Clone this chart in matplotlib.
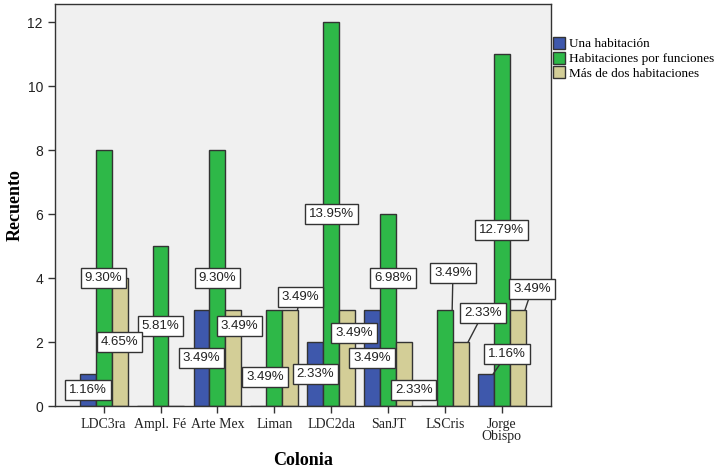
import numpy as np
import matplotlib
matplotlib.use("Agg")
import matplotlib.pyplot as plt

# Data: counts per colonia and room type
colonias = ["LDC3ra", "Ampl. Fé", "Arte Mex", "Liman", "LDC2da", "SanJT", "LSCris", "Jorge\nObispo"]
series_names = ["Una habitación", "Habitaciones por funciones", "Más de dos habitaciones"]
una_hab = [1, 0, 3, 0, 2, 3, 0, 1]
hab_funciones = [8, 5, 8, 3, 12, 6, 3, 11]
mas_de_dos = [4, 0, 3, 3, 3, 2, 2, 3]

COLORS = ["#3E58AC", "#2EB848", "#D3CE97"]
BG = "#F0F0F0"
EDGE = "#333333"

# label positions that SPSS moved away from the bar middle: (series, category) -> (x, y, leader)
label_moves = {
    (2, 2): (2.39, 2.5, False),
    (1, 3): (2.84, 0.9, False),
    (2, 3): (3.46, 3.4, True),
    (2, 4): (4.40, 2.28, False),
    (1, 5): (5.09, 4.0, False),
    (2, 5): (5.45, 0.5, False),
    (1, 6): (6.14, 4.16, True),
    (2, 6): (6.67, 2.9, True),
    (0, 7): (7.09, 1.63, True),
    (2, 7): (7.53, 3.66, True),
}

series = [una_hab, hab_funciones, mas_de_dos]
total = sum(sum(s) for s in series)

fig = plt.figure(figsize=(7.2, 4.71), dpi=100)
ax = fig.add_axes([0.076, 0.138, 0.689, 0.853])
ax.set_facecolor(BG)

x = np.arange(len(colonias))
w = 0.28
for k, (vals, name, col) in enumerate(zip(series, series_names, COLORS)):
    xpos = x + (k - 1) * w
    ax.bar(xpos, vals, width=w, color=col, edgecolor=EDGE, linewidth=1.0, label=name, zorder=2)
    for i, v in enumerate(vals):
        if v == 0:
            continue
        txt = f"{100 * v / total:.2f}%"
        lx, ly, leader = label_moves.get((k, i), (xpos[i], v / 2, False))
        bbox = dict(boxstyle="square,pad=0.3", fc="white", ec=EDGE, lw=1.0)
        if leader:
            ax.annotate(txt, xy=(xpos[i] + w * 0.45, v), xytext=(lx, ly),
                        ha="center", va="center", fontsize=9.5, family="Liberation Sans",
                        color="#222222", bbox=bbox, zorder=4, annotation_clip=False,
                        arrowprops=dict(arrowstyle="-", color=EDGE, lw=1.0, shrinkA=0, shrinkB=0))
        else:
            ax.text(lx, ly, txt, ha="center", va="center", fontsize=9.5, family="Liberation Sans",
                    color="#222222", bbox=bbox, zorder=4, clip_on=False)

ax.set_xlim(-0.86, 7.86)
ax.set_ylim(0, 12.56)
ax.set_yticks([0, 2, 4, 6, 8, 10, 12])
ax.set_xticks(x)
ax.set_xticklabels(colonias, family="Liberation Serif", fontsize=10, linespacing=0.95)
for lab in ax.get_yticklabels():
    lab.set_family("Liberation Sans")
    lab.set_fontsize(10)
ax.tick_params(axis="both", direction="out", length=5, width=1, color=EDGE, colors="#222222")
for s in ax.spines.values():
    s.set_color(EDGE)
    s.set_linewidth(1.0)

ax.set_xlabel("Colonia", family="Liberation Serif", fontsize=13, fontweight="bold", labelpad=6)
fig.text(0.021, 0.565, "Recuento", rotation=90, ha="center", va="center",
         family="Liberation Serif", fontsize=13, fontweight="bold")

ax.legend(loc="upper left", bbox_to_anchor=(1.0, 0.925), frameon=False,
          prop={"family": "Liberation Serif", "size": 9.5}, handlelength=0.9, handleheight=1.0,
          handletextpad=0.3, labelspacing=0.1, borderaxespad=0.1, borderpad=0.1)

fig.savefig("out.png", dpi=100)
